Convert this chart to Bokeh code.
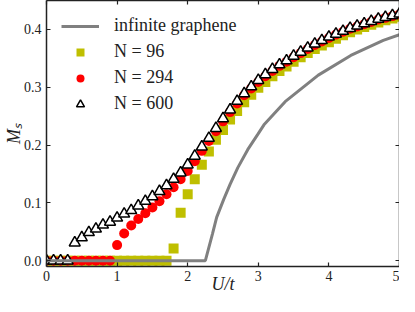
from bokeh.plotting import figure
from bokeh.models import (LinearAxis, Legend, LegendItem, Range1d, FixedTicker,
                          NumeralTickFormatter, CustomJSTickFormatter)
from bokeh.embed import file_html
from bokeh.resources import INLINE

# Interaction strength U/t sampled for the finite clusters
U = [0.0, 0.1, 0.2, 0.3, 0.4, 0.5, 0.6, 0.7, 0.8, 0.9,
     1.0, 1.1, 1.2, 1.3, 1.4, 1.5, 1.6, 1.7, 1.8, 1.9,
     2.0, 2.1, 2.2, 2.3, 2.4, 2.5, 2.6, 2.7, 2.8, 2.9,
     3.0, 3.1, 3.2, 3.3, 3.4, 3.5, 3.6, 3.7, 3.8, 3.9,
     4.0, 4.1, 4.2, 4.3, 4.4, 4.5, 4.6, 4.7, 4.8, 4.9, 5.0]

M_N96 = [0.0, 0.0, 0.0, 0.0, 0.0, 0.0, 0.0, 0.0, 0.0, 0.0,
         0.0, 0.0, 0.0, 0.0, 0.0, 0.0, 0.0, 0.0, 0.021, 0.083,
         0.115, 0.141, 0.166, 0.189, 0.209, 0.226, 0.244, 0.259, 0.274, 0.287,
         0.299, 0.309, 0.319, 0.328, 0.336, 0.344, 0.352, 0.359, 0.366, 0.372,
         0.378, 0.384, 0.390, 0.395, 0.400, 0.404, 0.408, 0.412, 0.416, 0.419, 0.422]

M_N294 = [0.0, 0.0, 0.0, 0.0, 0.0, 0.0, 0.0, 0.0, 0.0, 0.0,
          0.027, 0.047, 0.061, 0.072, 0.082, 0.092, 0.103, 0.115, 0.127, 0.141,
          0.155, 0.172, 0.190, 0.207, 0.224, 0.241, 0.257, 0.272, 0.286, 0.298,
          0.309, 0.319, 0.328, 0.337, 0.344, 0.352, 0.359, 0.366, 0.373, 0.379,
          0.385, 0.391, 0.396, 0.401, 0.405, 0.409, 0.413, 0.417, 0.420, 0.423, 0.426]

M_N600 = [0.0, 0.0, 0.0, 0.0, 0.031, 0.040, 0.049, 0.055, 0.062, 0.067,
          0.074, 0.081, 0.087, 0.095, 0.103, 0.111, 0.120, 0.130, 0.141, 0.152,
          0.166, 0.181, 0.197, 0.212, 0.229, 0.246, 0.261, 0.276, 0.289, 0.301,
          0.312, 0.322, 0.331, 0.339, 0.346, 0.354, 0.361, 0.368, 0.375, 0.381,
          0.387, 0.392, 0.397, 0.402, 0.406, 0.410, 0.414, 0.418, 0.421, 0.424, 0.427]

# Infinite graphene (mean-field) curve
U_inf = [0.0, 2.25, 2.30, 2.35, 2.41, 2.51, 2.60, 2.71, 2.85, 2.99,
         3.08, 3.38, 3.85, 4.31, 4.77, 5.0]
M_inf = [0.0, 0.0, 0.023, 0.046, 0.075, 0.106, 0.132, 0.161, 0.192, 0.218,
         0.235, 0.275, 0.321, 0.355, 0.381, 0.391]

x_ticks = [0, 1, 2, 3, 4, 5]
y_ticks = [0.0, 0.1, 0.2, 0.3, 0.4]

SERIF = "Liberation Serif"

p = figure(width=399, height=296, output_backend="svg", toolbar_location=None,
           x_range=Range1d(0, 5), y_range=Range1d(-0.01, 0.45),
           min_border_left=41, min_border_right=0, min_border_top=0, min_border_bottom=0)
p.xgrid.visible = False
p.ygrid.visible = False
p.outline_line_color = None

sq = p.scatter(U, M_N96, marker="square", size=10, fill_color="#bfbf00", line_color=None)
ci = p.scatter(U, M_N294, marker="circle", size=10, fill_color="#ff0000", line_color=None)
tr = p.scatter(U, M_N600, marker="triangle", size=11, fill_color="white",
               line_color="black", line_width=1.5)
ln = p.line(U_inf, M_inf, line_color="#808080", line_width=3)

def style_axis(ax, ticks, show_labels):
    ax.ticker = FixedTicker(ticks=ticks)
    ax.major_tick_in = 4
    ax.major_tick_out = 0
    ax.minor_tick_line_color = None
    ax.axis_line_color = "#222222"
    ax.axis_line_width = 1.5
    ax.major_tick_line_color = "#222222"
    ax.major_tick_line_width = 1.2
    ax.major_label_text_font = SERIF
    ax.major_label_text_color = "#222222"
    ax.major_label_text_font_size = "14px"
    if show_labels:
        ax.major_label_standoff = 4
    else:
        ax.formatter = CustomJSTickFormatter(code="return '';")
        ax.major_label_standoff = 0

style_axis(p.xaxis[0], x_ticks, True)
style_axis(p.yaxis[0], y_ticks, True)
p.yaxis[0].formatter = NumeralTickFormatter(format="0.0")
p.yaxis[0].major_label_standoff = 5

p.xaxis[0].axis_label = "U/t"
p.yaxis[0].axis_label = "Mₛ"
for ax in (p.xaxis[0], p.yaxis[0]):
    ax.axis_label_text_font = SERIF
    ax.axis_label_text_font_style = "italic"
    ax.axis_label_text_font_size = "18px"
    ax.axis_label_text_color = "#222222"
p.xaxis[0].axis_label_standoff = -10
p.yaxis[0].axis_label_standoff = -3

top = LinearAxis()
right = LinearAxis()
style_axis(top, x_ticks, False)
style_axis(right, y_ticks, False)
p.add_layout(top, "above")
p.add_layout(right, "right")

legend = Legend(items=[
    LegendItem(label="infinite graphene", renderers=[ln]),
    LegendItem(label="N = 96", renderers=[sq]),
    LegendItem(label="N = 294", renderers=[ci]),
    LegendItem(label="N = 600", renderers=[tr]),
], location="top_left")
legend.border_line_color = None
legend.background_fill_alpha = 0
legend.label_text_font = SERIF
legend.label_text_font_size = "18px"
legend.label_text_color = "#222222"
legend.glyph_width = 38
legend.glyph_height = 20
legend.label_height = 20
legend.spacing = 5
legend.label_standoff = 15
legend.margin = 15
legend.padding = 8
p.add_layout(legend)

open("out.html", "w").write(file_html(p, INLINE))
